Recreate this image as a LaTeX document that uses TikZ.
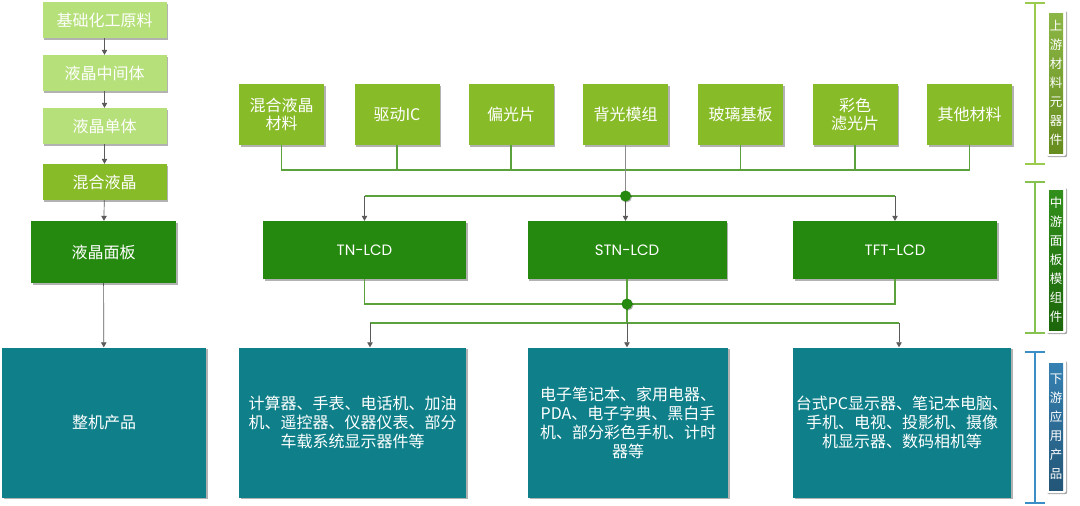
\documentclass[tikz,border=0pt]{standalone}
\usepackage{fontspec}
\setmainfont{Noto Sans CJK SC}
\newfontfamily\latinf{Poppins}
\usetikzlibrary{shadows,arrows.meta}

\definecolor{lgreen}{HTML}{B6E07A}
\definecolor{mgreen}{HTML}{88BB28}
\definecolor{dgreen}{HTML}{26890F}
\definecolor{tealbox}{HTML}{0F808A}
\definecolor{lineg}{HTML}{5BA23C}
\definecolor{arrgray}{HTML}{5A5A5A}
\definecolor{brkA}{HTML}{9BCB4E}
\definecolor{brkB}{HTML}{86C24F}
\definecolor{brkC}{HTML}{3B8FC6}

\tikzset{
  box/.style={draw=none, text=white, inner sep=1pt, align=center,
    font=\fontsize{16}{18.5}\selectfont,
    drop shadow={shadow xshift=1.8pt, shadow yshift=-1.8pt, opacity=0.3, fill=black}},
  lbox/.style={box, fill=lgreen, minimum width=124pt, minimum height=36pt},
  tbox/.style={box, fill=mgreen, minimum width=85pt, minimum height=61pt},
  mbox/.style={box, fill=dgreen, minimum height=58pt, font=\fontsize{15}{18}\selectfont\latinf},
  pbox/.style={box, fill=tealbox, minimum height=150pt, font=\fontsize{16}{19}\selectfont},
  gl/.style={draw=lineg, line width=1.1pt},
  arr/.style={draw=arrgray, line width=0.7pt, -{Triangle[length=5pt,width=5.5pt]}},
  jdot/.style={circle, fill=dgreen, minimum size=11pt, inner sep=0pt,
    drop shadow={shadow xshift=1pt, shadow yshift=-1pt, opacity=0.3, fill=black}},
  labframe/.style={draw=none, fill=white, rounded corners=2pt, minimum width=20pt,
    drop shadow={shadow xshift=1.2pt, shadow yshift=-1.2pt, opacity=0.35, fill=black}},
  labtext/.style={text=white, inner sep=0pt, align=center, minimum width=14pt,
    font=\fontsize{12.5}{19}\selectfont},
  brk/.style={line width=1.5pt}
}

\begin{document}
\begin{tikzpicture}[x=1pt,y=-1pt]
\useasboundingbox (0,0) rectangle (1080,506);

% left column
\node[lbox] (L1) at (104.5,20) {基础化工原料};
\node[lbox] (L2) at (104.5,73) {液晶中间体};
\node[lbox] (L3) at (104.5,126) {液晶单体};
\node[lbox, fill=mgreen] (L4) at (104.5,182) {混合液晶};
\node[box, fill=dgreen, minimum width=145pt, minimum height=62pt] (L5) at (103.5,252) {液晶面板};
\node[pbox, minimum width=204pt] (L6) at (104,422.5) {整机产品};

\draw[arr] (L1) -- (L2);
\draw[arr] (L2) -- (L3);
\draw[arr] (L3) -- (L4);
\draw[arr] (L4) -- (L5);
\draw[arr] (L5) -- (L6);

% top row
\node[tbox] (T1) at (281.5,114.5) {混合液晶\\材料};
\node[tbox] (T2) at (397,114.5) {驱动IC};
\node[tbox] (T3) at (511,114.5) {偏光片};
\node[tbox] (T4) at (625.5,114.5) {背光模组};
\node[tbox] (T5) at (740.5,114.5) {玻璃基板};
\node[tbox] (T6) at (855,114.5) {彩色\\滤光片};
\node[tbox] (T7) at (969.5,114.5) {其他材料};

\coordinate (b1) at (0,170);
\draw[gl] (T1.south) -- (T1.south |- b1) -- (T7.south |- b1) -- (T7.south);
\foreach \t in {T2,T3,T5,T6} \draw[gl] (\t.south) -- (\t.south |- b1);

% middle row
\node[mbox, minimum width=203pt] (M1) at (364.5,250) {TN-LCD};
\node[mbox, minimum width=199pt] (M2) at (627,250) {STN-LCD};
\node[mbox, minimum width=204pt] (M3) at (895,250) {TFT-LCD};

\coordinate (j1pos) at (625.5,196);
\draw[draw=arrgray!70, line width=0.8pt] (T4.south) -- (j1pos);
\draw[gl] (M1.north |- j1pos) -- (M3.north |- j1pos);
\draw[arr] (M1.north |- j1pos) -- (M1.north);
\draw[arr] (M3.north |- j1pos) -- (M3.north);
\draw[arr] (j1pos) -- (j1pos |- M2.north);
\node[jdot] (J1) at (j1pos) {};

% bottom row
\node[pbox, minimum width=227pt] (P1) at (352.5,422.5) {计算器、手表、电话机、加油\\机、遥控器、仪器仪表、部分\\车载系统显示器件等};
\node[pbox, minimum width=200pt] (P2) at (628,422.5) {电子笔记本、家用电器、\\PDA、电子字典、黑白手\\机、部分彩色手机、计时\\器等};
\node[pbox, minimum width=218pt] (P3) at (902,422.5) {台式PC显示器、笔记本电脑、\\手机、电视、投影机、摄像\\机显示器、数码相机等};

\coordinate (j2pos) at (627,304);
\draw[gl] (M1.south) |- (j2pos) -| (M3.south);
\draw[gl] (M2.south) -- (j2pos);
\coordinate (b3) at (0,323);
\coordinate (a1) at (370,323);
\coordinate (a3) at (899,323);
\draw[gl] (j2pos) -- (j2pos |- b3);
\draw[gl] (a1) -- (a3);
\draw[arr] (a1) -- (a1 |- P1.north);
\draw[arr] (a3) -- (a3 |- P3.north);
\draw[arr] (j2pos |- b3) -- (j2pos |- P2.north);
\node[jdot] (J2) at (j2pos) {};

% right brackets
\draw[brk, brkA] (1025,3) -- (1045,3) (1035,3) -- (1035,164) (1025,164) -- (1045,164);
\draw[brk, brkB] (1025,182) -- (1045,182) (1035,182) -- (1035,333) (1025,333) -- (1045,333);
\draw[brk, brkC] (1025,352) -- (1045,352) (1035,352) -- (1035,503) (1025,503) -- (1045,503);

% right labels
\node[labframe, minimum height=146pt] (S1f) at (1056,83) {};
\node[labtext, minimum height=140pt, top color=brkA!90!black, bottom color=mgreen!75!black] (S1) at (1056,83) {上\\游\\材\\料\\元\\器\\件};
\node[labframe, minimum height=146pt] (S2f) at (1056,260) {};
\node[labtext, minimum height=140pt, top color=dgreen!95!white, bottom color=dgreen!75!black] (S2) at (1056,260) {中\\游\\面\\板\\模\\组\\件};
\node[labframe, minimum height=133pt] (S3f) at (1056,426.5) {};
\node[labtext, minimum height=127pt, top color=brkC!90!black, bottom color=brkC!60!black] (S3) at (1056,426.5) {下\\游\\应\\用\\产\\品};
\end{tikzpicture}
\end{document}
